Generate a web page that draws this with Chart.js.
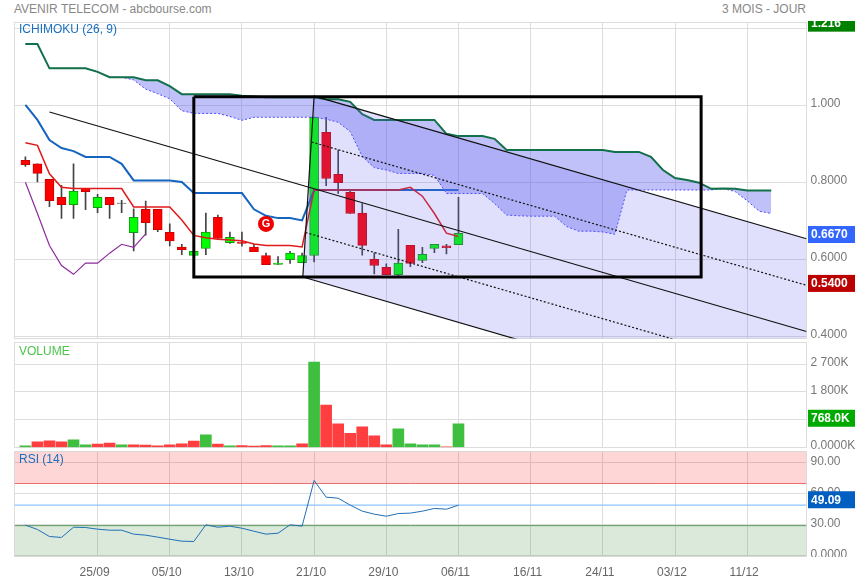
<!DOCTYPE html>
<html>
<head>
<meta charset="utf-8">
<title>AVENIR TELECOM</title>
<script src="https://cdn.jsdelivr.net/npm/chart.js@4/dist/chart.umd.min.js"></script>
<style>
  html, body { margin: 0; padding: 0; background: #fff; }
  #page { position: relative; width: 855px; height: 580px; overflow: hidden; font: 12px "Liberation Sans", Arial, sans-serif; color: #888; }
  #page canvas { position: absolute; left: 0; }
  .head { position: absolute; top: 2px; line-height: 15px; white-space: nowrap; }
</style>
</head>
<body>
<div id="page">
  <div class="head" style="left:14px">AVENIR TELECOM - abcbourse.com</div>
  <div class="head" style="right:49px">3 MOIS - JOUR</div>
  <canvas id="priceChart" width="855" height="319" style="top:21px"></canvas>
  <canvas id="volumeChart" width="855" height="109" style="top:340px"></canvas>
  <canvas id="rsiChart" width="855" height="107" style="top:450px"></canvas>
  <canvas id="dateChart" width="855" height="60" style="top:525px"></canvas>
</div>
<script>
// dates shown under the chart, position is the session number
const dateTicks = [6, 12, 18, 24, 30, 36, 42, 48, 54, 60];
const dateLabels = ['25/09', '05/10', '13/10', '21/10', '29/10', '06/11', '16/11', '24/11', '03/12', '11/12'];

// candles
const opens  = [.857,.848,.808,.761,.742,.784,.734,.761,.745,.669,.730,.730,.670,.632,.610,.628,.709,.643,.645,.632,.610,.587,.599,.591,.610,.930,.821,.774,.720,.600,.579,.560,.636,.597,.628,.635,.638];
const closes = [.846,.823,.752,.742,.777,.776,.761,.742,.746,.709,.695,.677,.648,.625,.621,.671,.654,.657,.641,.620,.586,.590,.616,.610,.969,.810,.799,.719,.636,.584,.560,.590,.589,.613,.639,.630,.6675];
const highs  = [.866,.848,.808,.792,.848,.784,.769,.761,.753,.731,.751,.730,.692,.639,.621,.720,.715,.671,.671,.639,.616,.607,.621,.616,.969,.969,.884,.778,.745,.617,.588,.678,.636,.631,.639,.639,.761];
const lows   = [.841,.801,.737,.706,.706,.729,.721,.706,.721,.622,.663,.672,.635,.612,.610,.612,.654,.641,.634,.620,.586,.587,.589,.591,.593,.791,.771,.719,.611,.562,.560,.557,.581,.591,.617,.614,.638];

// ichimoku
const cloudTop = [1.159,1.159,1.096,1.096,1.096,1.096,1.087,1.073,1.073,1.073,1.065,1.065,1.050,1.029,1.029,1.029,1.029,1.029,1.025,1.023,1.021,1.021,1.021,1.021,1.021,1.016,1.016,1.009,.977,.962,.962,.962,.962,.962,.962,.926,.920,.920,.920,.913,.884,.884,.884,.884,.884,.884,.884,.884,.884,.879,.879,.879,.866,.832,.811,.806,.799,.783,.784,.783,.779,.779,.779];
const cloudBottom = [1.159,1.159,1.096,1.096,1.096,1.096,1.087,1.073,1.073,1.066,1.042,1.030,1.017,.986,.979,.979,.979,.971,.961,.969,.969,.969,.969,.969,.969,.964,.956,.932,.867,.838,.832,.823,.823,.823,.818,.771,.771,.771,.771,.745,.715,.713,.712,.712,.712,.685,.673,.673,.671,.665,.780,.780,.780,.780,.780,.780,.780,.780,.784,.776,.752,.725,.719];
const kijun = [1.001,.962,.910,.889,.881,.866,.866,.866,.848,.805,.805,.805,.805,.801,.772,.772,.772,.772,.772,.730,.713,.707,.707,.701,.780,.780,.780,.780,.780,.780,.780,.780,.780,.780,.780,.780,.780];
const tenkan = [.903,.896,.822,.787,.784,.784,.784,.784,.784,.736,.736,.736,.736,.702,.662,.656,.652,.650,.648,.640,.636,.636,.636,.632,.780,.780,.780,.780,.780,.780,.780,.780,.787,.764,.719,.668,.659];
const chikou = [.800,.719,.636,.584,.561,.590,.590,.616,.639,.631,.666];

// regression channel, [session, price]
const channelUpper = [[23.06,.554],[24,1.024],[64.93,.6535]];
const channelLower = [[23.06,.554],[64.93,.173]];
const channelMiddle = [[2,.9826],[64.93,.4125]];
const channelDashUp = [[23.79,.9047],[64.93,.5325]];
const channelDashDown = [[23.29,.6696],[64.93,.2922]];

// the black rectangle
const boxSessions = [14, 56.17, 56.17, 14, 14];
const boxPrices = [1.022, 1.022, .554, .554, 1.022];

// buy signal
const signalSession = [20];
const signalPrice = [.692];

// volume in K
const volumes = [54,183,215,183,247,86,107,140,86,86,75,54,86,118,204,408,107,54,64,43,64,54,54,118,2763,1376,763,462,666,376,86,602,118,86,86,21,768];
const volumeUp = [1,0,0,0,1,1,0,0,1,0,0,0,0,0,0,1,0,1,0,0,0,1,1,0,1,0,0,0,0,0,0,1,1,1,1,0,1];

// rsi
const rsi = [29.8,25.6,18.8,17.9,27.8,27.5,25.9,24.9,24.9,21.1,20.1,18.2,16.2,14.3,14.0,30.1,27.8,28.8,26.8,23.9,21.1,22.0,30.1,28.8,72.9,56.8,55.8,49.1,43.3,40.4,38.4,41.0,41.4,43.3,45.9,45.2,49.09];
const rsiHighLevel = 70;
const rsiLowLevel = 29.3;
const rsiLast = 49.09;

// axis ticks
const priceTicks = [.4, .6, .8, 1, 1.2];
const priceLabels = ['0.4000', '0.6000', '0.8000', '1.000', '1.200'];
const volumeTicks = [0, 900, 1800, 2700];
const volumeLabels = ['0.0000K', '900.0K', '1 800K', '2 700K'];
const rsiTicks = [0, 30, 60, 90];
const rsiLabels = ['0.0000', '30.00', '60.00', '90.00'];

const FONT = '"Liberation Sans", Arial, sans-serif';
const X_MIN = -0.906, X_MAX = 64.93;

const series = ys => ys.map((y, i) => ({ x: i, y }));
const pairs = list => list.map(p => ({ x: p[0], y: p[1] }));

function line(data, color, width, extra) {
  return Object.assign({ type: 'line', data, borderColor: color, borderWidth: width, pointRadius: 0, tension: 0, fill: false }, extra);
}

// grey frame, panel name, coloured value boxes
const panelDeco = {
  id: 'panelDeco',
  beforeDatasetsDraw(chart) {
    const a = chart.chartArea, ctx = chart.ctx;
    ctx.save();
    ctx.strokeStyle = '#ddd';
    ctx.lineWidth = 1;
    ctx.strokeRect(a.left, a.top, a.right - a.left, a.bottom - a.top);
    ctx.restore();
  },
  afterDraw(chart, args, opts) {
    const ctx = chart.ctx, y = chart.scales.y;
    ctx.save();
    ctx.textBaseline = 'middle';
    ctx.font = '12px ' + FONT;
    ctx.fillStyle = opts.nameColor;
    ctx.fillText(opts.name, 19, opts.nameY);
    (opts.tags || []).forEach(t => {
      const mid = y.getPixelForValue(t.value) + t.shift;
      ctx.fillStyle = t.color;
      ctx.fillRect(808, mid - 8.5, 47, 17);
      ctx.fillStyle = '#fff';
      ctx.font = 'bold 12px ' + FONT;
      ctx.fillText(t.text, 811, mid + 0.5);
    });
    if (opts.signal) {
      ctx.fillStyle = '#fff';
      ctx.font = 'bold 11px ' + FONT;
      ctx.textAlign = 'center';
      ctx.fillText('G', chart.scales.x.getPixelForValue(signalSession[0]), y.getPixelForValue(signalPrice[0]) + 0.5);
    }
    ctx.restore();
  }
};

function panel(id, datasets, cfg) {
  return new Chart(document.getElementById(id), {
    type: 'line',
    data: { datasets },
    plugins: [panelDeco],
    options: {
      responsive: false,
      animation: false,
      // no automatic room for the G marker, the plot box has to stay where it is
      layout: { autoPadding: false, padding: { left: 14.5, top: cfg.top, bottom: cfg.bottom, right: 0 } },
      plugins: { legend: { display: false }, tooltip: { enabled: false }, panelDeco: cfg.deco },
      scales: {
        x: {
          type: 'linear', min: X_MIN, max: X_MAX, offset: false,
          grid: { color: '#ddd', drawTicks: false, offset: false },
          border: { display: false },
          ticks: { display: false, autoSkip: false },
          afterBuildTicks: s => { s.ticks = dateTicks.map(value => ({ value })); }
        },
        y: {
          type: 'linear', position: 'right', min: cfg.min, max: cfg.max,
          grid: { color: '#ddd', drawTicks: false },
          border: { display: false },
          ticks: {
            autoSkip: false, padding: 4, labelOffset: -1.5, color: '#777',
            font: { family: FONT, size: 12 },
            callback: v => cfg.labels[cfg.ticks.indexOf(v)]
          },
          afterBuildTicks: s => { s.ticks = cfg.ticks.map(value => ({ value })); },
          afterFit: s => { s.width = 48.5; s.paddingTop = 0; s.paddingBottom = 0; }
        }
      }
    }
  });
}

// --- price panel; candles sit under the cloud and the channel, they get tinted
const candleFill = opens.map((o, i) => closes[i] > o ? '#00ff00' : '#ff0000');
const candleEdge = opens.map((o, i) => closes[i] > o ? '#119911' : '#cc0000');
candleFill[8] = candleEdge[8] = '#444';

const priceSets = [
  { type: 'bar', order: 21, grouped: false, barThickness: 1, backgroundColor: '#444', borderWidth: 0,
    data: highs.map((h, i) => ({ x: i, y: [lows[i], h] })) },
  { type: 'bar', order: 20, grouped: false, barThickness: 9, backgroundColor: candleFill, borderColor: candleEdge,
    borderWidth: 1, borderSkipped: false,
    data: opens.map((o, i) => ({ x: i, y: [o, closes[i]] })) },
  line(series(kijun), '#1565c0', 2, { order: 14 }),
  line(series(tenkan), '#e01a1a', 1.5, { order: 13 }),
  line(series(chikou), '#8e2a9e', 1.2, { order: 12 }),
  line(series(cloudTop), '#12704a', 2, { order: 8 }),
  line(series(cloudBottom), '#4a4aff', 1, { order: 9, borderDash: [2, 2], fill: { target: 5 }, backgroundColor: 'rgba(100,100,240,.4)' }),
  line(pairs(channelUpper), '#111', 1.2, { order: 6 }),
  line(pairs(channelLower), '#111', 1.2, { order: 7, fill: { target: 7 }, backgroundColor: 'rgba(100,100,240,.2)' }),
  line(pairs(channelMiddle), '#111', 1.2, { order: 5 }),
  line(pairs(channelDashUp), '#111', 1.2, { order: 5, borderDash: [2, 2] }),
  line(pairs(channelDashDown), '#111', 1.2, { order: 5, borderDash: [2, 2] }),
  line(boxSessions.map((x, i) => ({ x, y: boxPrices[i] })), '#000', 3, { order: 2 }),
  { type: 'line', order: 1, showLine: false, data: [{ x: signalSession[0], y: signalPrice[0] }],
    pointRadius: 8, pointBackgroundColor: '#ee0000', pointBorderWidth: 0 }
];

panel('priceChart', priceSets, {
  top: 1.5, bottom: 1.5, min: .3943, max: 1.2151, ticks: priceTicks, labels: priceLabels,
  deco: {
    name: 'ICHIMOKU (26, 9)', nameColor: '#1a6fc0', nameY: 9, signal: true,
    tags: [
      { value: 1.216, text: '1.216', color: '#008000', shift: 1 },
      { value: .667, text: '0.6670', color: '#3366ff', shift: 1 },
      { value: .54, text: '0.5400', color: '#bb0000', shift: 1 }
    ]
  }
});

// --- volume panel
panel('volumeChart', [
  { type: 'bar', barThickness: 11, borderWidth: 0, grouped: false,
    backgroundColor: volumeUp.map(u => u ? '#3fbf3f' : '#ff3f3f'),
    data: series(volumes) }
], {
  top: 2.5, bottom: 1.5, min: 0, max: 3397, ticks: volumeTicks, labels: volumeLabels,
  deco: {
    name: 'VOLUME', nameColor: '#4cc44c', nameY: 11.5,
    tags: [{ value: 768, text: '768.0K', color: '#00aa00', shift: -5.5 }]
  }
});

// --- rsi panel
panel('rsiChart', [
  line(pairs([[X_MIN, rsiHighLevel], [X_MAX, rsiHighLevel]]), '#ea6e6e', 1, { fill: 'end', backgroundColor: 'rgba(255,0,0,.16)', order: 4 }),
  line(pairs([[X_MIN, rsiLowLevel], [X_MAX, rsiLowLevel]]), '#5a9a5a', 1, { fill: 'start', backgroundColor: 'rgba(60,140,60,.19)', order: 4 }),
  line(pairs([[X_MIN, rsiLast], [X_MAX, rsiLast]]), '#8cc4ff', 1.2, { order: 3 }),
  line(series(rsi), '#1f6fb5', 1, { order: 1 })
], {
  top: 1.5, bottom: 0.5, min: -0.5, max: 100.9, ticks: rsiTicks, labels: rsiLabels,
  deco: {
    name: 'RSI (14)', nameColor: '#1a6fc0', nameY: 9.5,
    tags: [{ value: rsiLast, text: '49.09', color: '#005fc0', shift: -5.4 }]
  }
});

// --- date labels only, the canvas overlaps the rsi panel but stays see-through
new Chart(document.getElementById('dateChart'), {
  type: 'line',
  data: { datasets: [] },
  options: {
    responsive: false,
    animation: false,
    layout: { autoPadding: false, padding: { left: 14.5, right: 48.5, bottom: 3 } },
    plugins: { legend: { display: false }, tooltip: { enabled: false } },
    scales: {
      x: {
        type: 'linear', min: X_MIN, max: X_MAX,
        grid: { display: false },
        border: { display: false },
        ticks: {
          autoSkip: false, maxRotation: 0, padding: 2, labelOffset: -3, color: '#666',
          font: { family: FONT, size: 12 },
          callback: v => dateLabels[dateTicks.indexOf(v)]
        },
        afterBuildTicks: s => { s.ticks = dateTicks.map(value => ({ value })); }
      },
      y: { display: false }
    }
  }
});
</script>
</body>
</html>
